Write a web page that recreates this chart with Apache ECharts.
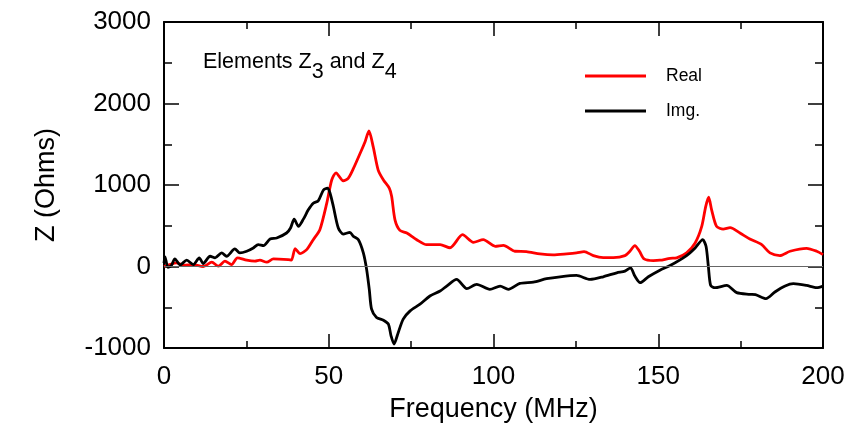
<!DOCTYPE html>
<html>
<head>
<meta charset="utf-8">
<script src="https://cdn.jsdelivr.net/npm/echarts@6/dist/echarts.min.js"></script>
<style>
html,body{margin:0;padding:0;background:#fff;}
#chart{width:851px;height:429px;}
</style>
</head>
<body>
<div id="chart"></div>
<script>
// Real part (MHz, Ohms)
var realFreq = [0,1.5,3.8,6,8.9,11.9,14.5,16.5,18.5,20.5,22.3,25.1,27.6,29.1,31.2,33.2,37.7,38.7,39.8,41.3,43.3,45.3,47.3,49.4,50.9,52.2,54.4,55.9,57.5,59.5,61,62.2,63.5,65,66.6,68.4,69.1,70.1,71.6,73.7,76.7,79.7,83.8,86.8,90.6,93.9,96.9,100.5,103,106.5,110,114.1,118.1,122.2,125.2,127.5,130.3,133.3,136.4,139.9,141.4,142.9,144.3,145.7,148.5,150.5,153.6,155.6,158.6,161.2,163.2,164.4,165.3,166.2,167.7,169.7,171.8,174.8,177.8,181.4,183.9,186.9,190,195,198.1,200];
var realZ = [0,20,45,15,24,0,53,4,65,24,106,77,65,77,53,93,85,80,220,159,207,329,451,777,1061,1150,1052,1081,1203,1386,1528,1663,1467,1183,1061,960,858,573,443,411,329,268,268,230,390,296,329,248,260,187,183,155,143,155,167,183,134,110,110,134,187,256,187,94,73,77,100,106,167,289,492,735,850,695,492,459,476,411,338,268,167,134,187,223,187,146];
// Imaginary part (MHz, Ohms)
var imgFreq = [0,0.3,1.2,2.2,3.3,4.9,6.9,8.9,10.7,11.9,14,15.5,17.5,19,21.5,23,25.1,27.1,28.6,30.2,32.2,34.2,37.2,38.4,39.5,40.8,42.3,43.8,45.3,46.8,48.4,49.6,50.4,51.4,52.9,54.4,56.4,57.5,59,60.5,61.5,62.3,63,64.5,66.6,68.1,68.9,69.8,71.1,72.6,74.7,77.7,80.7,83.8,85.8,88.8,91.9,94.9,98.9,102,104.5,108,112.1,116.1,120.2,125.2,129.3,133.3,137.4,139.9,141.6,142.9,144.5,147,150.5,153.6,158.6,161.2,163.5,164.5,165.2,165.9,167.2,170.8,173.8,177.8,179.5,182.7,185.4,188.5,191,195,198.1,200];
var imgZ = [40,118,-10,10,94,20,77,24,106,37,126,106,167,126,216,167,187,228,268,256,338,350,411,472,581,492,581,695,777,805,939,960,899,736,472,398,419,370,329,167,-37,-280,-524,-626,-659,-707,-850,-951,-809,-646,-545,-463,-362,-301,-240,-159,-272,-220,-280,-240,-280,-207,-191,-150,-126,-110,-159,-126,-77,-57,-16,-118,-199,-126,-45,12,134,228,329,248,4,-232,-260,-232,-321,-341,-345,-394,-313,-240,-211,-232,-260,-240];
// Axis ticks
var xTicks = {min: 0, max: 200, step: 50};
var yTicks = {min: -1000, max: 3000, step: 1000};
var seriesNames = ['Real', 'Img.'];

function pairs(xs, ys){ return xs.map(function(x,i){ return [x, ys[i]]; }); }

var FONT = 'Liberation Sans, Arial, Helvetica, sans-serif';
var chart = echarts.init(document.getElementById('chart'), null, {renderer:'canvas'});

function xAx(pos, showLabel){
  return {
    type:'value', position:pos, min:xTicks.min, max:xTicks.max, interval:xTicks.step,
    axisLine:{show:true, onZero:false, lineStyle:{color:'#000', width:2}},
    axisTick:{show:true, inside:true, length:14, lineStyle:{color:'#000', width:1.5}},
    minorTick:{show:true, splitNumber:2, length:7, lineStyle:{color:'#000', width:1.5}},
    splitLine:{show:false},
    axisLabel:{show:showLabel, color:'#000', fontSize:26, fontFamily:FONT, margin:16,
      formatter:function(v){ return String(v); }},
    name: showLabel ? 'Frequency (MHz)' : '',
    nameLocation:'middle', nameGap:48,
    nameTextStyle:{color:'#000', fontSize:27, fontFamily:FONT}
  };
}
function yAx(pos, showLabel){
  return {
    type:'value', position:pos, min:yTicks.min, max:yTicks.max, interval:yTicks.step,
    axisLine:{show:true, onZero:false, lineStyle:{color:'#000', width:2}},
    axisTick:{show:true, inside:true, length:15, lineStyle:{color:'#000', width:1.5}},
    minorTick:{show:true, splitNumber:2, length:8, lineStyle:{color:'#000', width:1.5}},
    splitLine:{show:false},
    axisLabel:{show:showLabel, color:'#000', fontSize:26, fontFamily:FONT, margin:13,
      formatter:function(v){ return String(v); }},
    name: showLabel ? 'Z (Ohms)' : '',
    nameLocation:'middle', nameGap:104, nameRotate:90,
    nameTextStyle:{color:'#000', fontSize:27, fontFamily:FONT}
  };
}

chart.setOption({
  animation:false,
  backgroundColor:'#fff',
  textStyle:{fontFamily:FONT},
  grid:{left:164, right:28, top:22, bottom:81, containLabel:false},
  title:{
    left:203, top:51, padding:0,
    text:'{a|Elements Z}{s|3}{a| and Z}{s|4}',
    textStyle:{
      fontWeight:'normal',
      rich:{
        a:{fontSize:21.5, fontFamily:FONT, fontWeight:'normal', color:'#000', verticalAlign:'top', lineHeight:22},
        s:{fontSize:21.5, fontFamily:FONT, fontWeight:'normal', color:'#000', verticalAlign:'top', lineHeight:22, padding:[10,0,0,0]}
      }
    }
  },
  legend:{
    data:seriesNames, orient:'vertical', left:585, top:66, padding:0,
    itemWidth:61, itemHeight:3, icon:'rect', itemGap:15,
    textStyle:{color:'#000', fontSize:17.5, fontFamily:FONT, lineHeight:20, padding:[0,0,0,15]}
  },
  xAxis:[xAx('bottom', true), xAx('top', false)],
  yAxis:[yAx('left', true), yAx('right', false)],
  series:[
    {
      name:seriesNames[0], type:'line', xAxisIndex:0, yAxisIndex:0,
      data:pairs(realFreq, realZ), showSymbol:false, smooth:0.25,
      lineStyle:{color:'#ff0000', width:2.8}, itemStyle:{color:'#ff0000'},
      markLine:{silent:true, symbol:'none', label:{show:false},
        lineStyle:{color:'#666', width:1.2, type:'solid'}, data:[{yAxis:0}]},
      z:3
    },
    {
      name:seriesNames[1], type:'line', xAxisIndex:0, yAxisIndex:0,
      data:pairs(imgFreq, imgZ), showSymbol:false, smooth:0.25,
      lineStyle:{color:'#000', width:2.8}, itemStyle:{color:'#000'},
      z:4
    }
  ]
});
</script>
</body>
</html>
